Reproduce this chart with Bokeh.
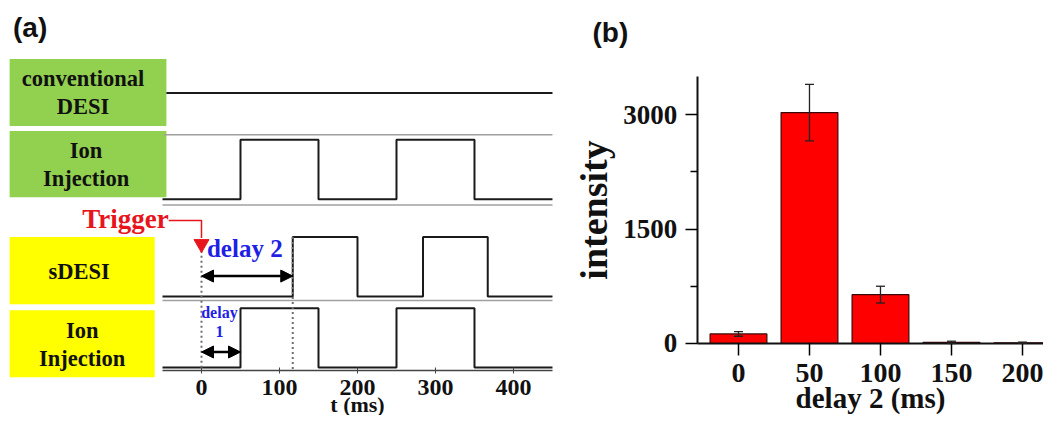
from bokeh.plotting import figure
from bokeh.layouts import row
from bokeh.models import (Range1d, FixedTicker, Label, Arrow, NormalHead,
                          Whisker, TeeHead, ColumnDataSource)
from bokeh.core.properties import value
from bokeh.embed import file_html
from bokeh.resources import INLINE

# ---------------- data: panel (a) timing diagram ----------------
time_ticks = [0, 100, 200, 300, 400]
t_window = [-50, 450]
conv_desi_on = [-45, 450]
ion_injection_edges = [50, 150, 250, 350]      # rise / fall times (ms)
sdesi_edges = [117, 200, 284, 367]             # rise / fall times (ms)
delay1_ms = 50
delay2_ms = 117
row_labels = ["conventional\nDESI", "Ion\nInjection", "sDESI", "Ion\nInjection"]

# ---------------- data: panel (b) bar chart ----------------
delay2_values = [0, 50, 100, 150, 200]
intensity = [125, 3025, 640, 15, 10]
intensity_err = [30, 370, 110, 15, 8]
intensity_ticks = [0, 1500, 3000]
intensity_minor = [750, 2250]

SERIF = "Liberation Serif"
SANS = "Liberation Sans"

# ---------------- panel (a) ----------------
pa = figure(width=570, height=415, x_range=Range1d(-257.7, 473.1),
            y_range=Range1d(-46.2, 380), output_backend="svg",
            toolbar_location=None, y_axis_type=None, min_border=0)
pa.min_border_left = pa.min_border_right = 0
pa.min_border_top = pa.min_border_bottom = 0
pa.outline_line_color = None
pa.grid.visible = False
pa.background_fill_color = "white"

# layout of the rows (vertical positions, pulse height)
PULSE_H = 61
conv_level = 285
row_low = [176, 76, 3]          # Ion Injection, sDESI, Ion Injection


def square(edges, start, end, low, high):
    xs, ys = [start], [low]
    level = low
    for e in edges:
        nxt = high if level == low else low
        xs += [e, e]
        ys += [level, nxt]
        level = nxt
    xs.append(end)
    ys.append(level)
    return xs, ys


# label boxes
pa.quad(left=[-246, -246], right=[-45, -45], bottom=[251, 178], top=[320, 246],
        fill_color="#92D050", line_color=None)
pa.quad(left=[-246, -246], right=[-60, -60], bottom=[68, -7], top=[137, 62],
        fill_color="#FFFF00", line_color=None)
pa.text(x=[-152, -148, -157, -153], y=[286, 212, 102, 27], text=row_labels,
        text_align="center", text_baseline="middle", text_font=value(SERIF),
        text_font_style="bold", text_font_size="22.5px", text_line_height=1.12,
        text_color="#111111")

# gray separators
pa.segment(x0=[-48, -50, -50], x1=[t_window[1]] * 3, y0=[242, 170, 72],
           y1=[242, 170, 72], line_color="#a0a0a0", line_width=1.5)

# waveforms
pa.line(x=conv_desi_on, y=[conv_level, conv_level], line_color="#1a1a1a", line_width=2)
for edges, low in [(ion_injection_edges, row_low[0]), (sdesi_edges, row_low[1]),
                   (ion_injection_edges, row_low[2])]:
    xs, ys = square(edges, t_window[0], t_window[1], low, low + PULSE_H)
    pa.line(x=xs, y=ys, line_color="#1a1a1a", line_width=2)

# dotted guide lines
pa.segment(x0=[0, delay2_ms], x1=[0, delay2_ms], y0=[123, 137], y1=[0, 0],
           line_color="#6f6f6f", line_width=2, line_dash="2 3")

# trigger
pa.text(x=[-42], y=[156], text=["Trigger"], text_align="right", text_baseline="middle",
        text_font=value(SERIF), text_font_style="bold", text_font_size="27px",
        text_color="#e8141c")
pa.line(x=[-42, 0, 0], y=[154, 154, 136], line_color="#e8141c", line_width=1.5)
pa.scatter(x=[0], y=[130], marker="inverted_triangle", size=15,
           fill_color="#e8141c", line_color="#e8141c")

# delay arrows
for d, yy in [(delay2_ms, 97), (delay1_ms, 19)]:
    pa.add_layout(Arrow(start=NormalHead(size=12, fill_color="black", line_color="black"),
                        end=NormalHead(size=12, fill_color="black", line_color="black"),
                        x_start=0, x_end=d, y_start=yy, y_end=yy,
                        line_color="black", line_width=2.5))

pa.text(x=[7], y=[125], text=["delay 2"], text_align="left", text_baseline="middle",
        text_font=value(SERIF), text_font_style="bold", text_font_size="25px",
        text_color="#1f1fe6")
pa.text(x=[23], y=[50], text=["delay\n1"], text_align="center", text_baseline="middle",
        text_font=value(SERIF), text_font_style="bold", text_font_size="16px",
        text_line_height=1.15, text_color="#1f1fe6")

pa.add_layout(Label(x=-241.7, y=367.7, text="(a)", text_baseline="top",
                    text_font=SANS, text_font_style="bold", text_font_size="28px",
                    text_color="#111111"))

ax = pa.xaxis[0]
ax.fixed_location = 0
ax.bounds = (t_window[0], t_window[1])
ax.ticker = FixedTicker(ticks=time_ticks)
ax.minor_tick_line_color = None
ax.major_tick_in = 3
ax.major_tick_out = 3
ax.major_label_standoff = 6
ax.axis_line_color = "#444444"
ax.axis_line_width = 1.5
ax.major_tick_line_color = "#444444"
ax.major_label_text_font = SERIF
ax.major_label_text_font_style = "bold"
ax.major_label_text_font_size = "24px"
ax.major_label_text_color = "#111111"
ax.axis_label = "t (ms)"
ax.axis_label_text_font = SERIF
ax.axis_label_text_font_style = "bold"
ax.axis_label_text_font_size = "22px"
ax.axis_label_text_color = "#111111"
ax.axis_label_standoff = -6

# ---------------- panel (b) ----------------
pb = figure(width=473, height=415, x_range=Range1d(-118.3, 214.8),
            y_range=Range1d(-943.3, 4493.6), output_backend="svg",
            toolbar_location=None, min_border=0)
pb.min_border_left = pb.min_border_right = 0
pb.min_border_top = pb.min_border_bottom = 0
pb.outline_line_color = None
pb.grid.visible = False

src = ColumnDataSource(dict(
    x=delay2_values, top=intensity,
    upper=[v + e for v, e in zip(intensity, intensity_err)],
    lower=[v - e for v, e in zip(intensity, intensity_err)]))

pb.vbar(x="x", top="top", width=40, source=src, fill_color="#ff0000",
        line_color="#3a0a0a", line_width=1.2)
pb.add_layout(Whisker(source=src, base="x", upper="upper", lower="lower",
                      line_color="#222222", line_width=1.3, level="overlay",
                      upper_head=TeeHead(size=9, line_color="#222222", line_width=1.3),
                      lower_head=TeeHead(size=9, line_color="#222222", line_width=1.3)))

pb.add_layout(Label(x=-102.8, y=4271, text="(b)", text_baseline="top",
                    text_font=SANS, text_font_style="bold", text_font_size="28px",
                    text_color="#111111"))

xb = pb.xaxis[0]
xb.fixed_location = 0
xb.bounds = (-29, 215)
xb.ticker = FixedTicker(ticks=delay2_values)
xb.minor_tick_line_color = None
xb.major_tick_in = 0
xb.major_tick_out = 12
xb.major_label_standoff = 9
xb.axis_line_width = 2
xb.axis_line_color = "#111111"
xb.major_tick_line_width = 1.5
xb.major_label_text_font = SERIF
xb.major_label_text_font_style = "bold"
xb.major_label_text_font_size = "28px"
xb.major_label_text_color = "#111111"
xb.axis_label = "delay 2 (ms)"
xb.axis_label_text_font = SERIF
xb.axis_label_text_font_style = "bold"
xb.axis_label_text_font_size = "29px"
xb.axis_label_text_color = "#111111"
xb.axis_label_standoff = -4

yb = pb.yaxis[0]
yb.fixed_location = -29
yb.bounds = (0, 3500)
yb.ticker = FixedTicker(ticks=intensity_ticks, minor_ticks=intensity_minor)
yb.major_tick_in = 0
yb.major_tick_out = 12
yb.minor_tick_in = 0
yb.minor_tick_out = 7
yb.major_label_standoff = 8
yb.axis_line_width = 2
yb.axis_line_color = "#111111"
yb.major_tick_line_width = 1.5
yb.minor_tick_line_width = 1.5
yb.major_label_text_font = SERIF
yb.major_label_text_font_style = "bold"
yb.major_label_text_font_size = "27px"
yb.major_label_text_color = "#111111"
yb.axis_label = "intensity"
yb.axis_label_text_font = SERIF
yb.axis_label_text_font_style = "bold"
yb.axis_label_text_font_size = "38px"
yb.axis_label_text_color = "#111111"
yb.axis_label_standoff = 6

layout = row(pa, pb)
open("out.html", "w").write(file_html(layout, INLINE))
